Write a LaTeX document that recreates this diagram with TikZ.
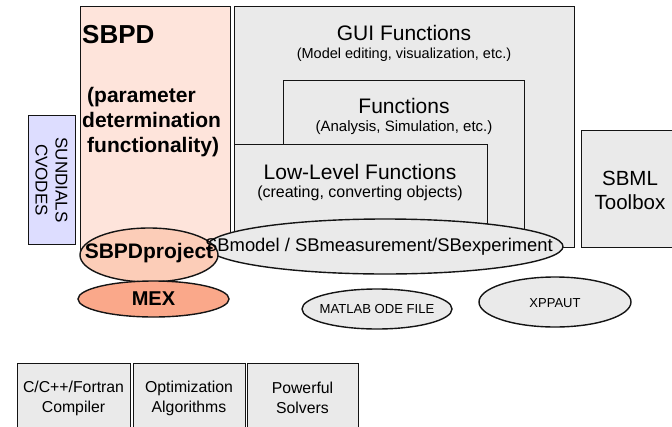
\documentclass[tikz,border=0pt]{standalone}
\usepackage{fontspec}
\setmainfont{Liberation Sans}
\usetikzlibrary{shapes.geometric}
\definecolor{boxgray}{RGB}{234,234,234}
\definecolor{sbpdpink}{RGB}{254,228,219}
\definecolor{projpeach}{RGB}{252,205,184}
\definecolor{mexsalmon}{RGB}{250,168,138}
\definecolor{sunlav}{RGB}{221,221,255}
\definecolor{edge}{RGB}{20,20,20}
\newcommand\setfs[2]{\fontsize{#1}{#2}\selectfont}

\begin{document}
\begin{tikzpicture}[x=1pt,y=-1pt,
  box/.style={draw=edge, line width=1.4pt, fill=boxgray, inner sep=0pt, anchor=north west},
  oval/.style={ellipse, draw=edge, line width=1.4pt, fill=boxgray, inner sep=0pt},
  lbl/.style={inner sep=0pt, align=center, text=black}]
\useasboundingbox (0,0) rectangle (672,426);

% SBPD column and nested function layers
\node[box, fill=sbpdpink, minimum width=150pt, minimum height=244pt] (sbpd) at (80,6) {};
\node[box, minimum width=340pt, minimum height=241pt] (gui) at (234,6) {};
\node[box, minimum width=241pt, minimum height=160pt] (fun) at (283,80) {};
\node[box, minimum width=253pt, minimum height=96pt] (low) at (234,144) {};

% side boxes
\node[box, fill=sunlav, minimum width=47pt, minimum height=129pt] (sun) at (28,115) {};
\node[box, minimum width=100pt, minimum height=117pt] (sbml) at (581,130) {};

% bottom row
\node[box, minimum width=113pt, minimum height=80pt] (comp) at (17,363) {};
\node[box, minimum width=112pt, minimum height=80pt] (opt) at (133,363) {};
\node[box, minimum width=111pt, minimum height=80pt] (solv) at (247,363) {};

% ellipses
\node[oval, minimum width=356pt, minimum height=55pt] (sbm) at (385,246.5) {};
\node[oval, fill=projpeach, minimum width=138pt, minimum height=54pt] (proj) at (149,255) {};
\node[oval, fill=mexsalmon, minimum width=151pt, minimum height=36pt] (mex) at (153.5,299) {};
\node[oval, minimum width=150pt, minimum height=40pt] (ode) at (377,309) {};
\node[oval, minimum width=152pt, minimum height=50pt] (xpp) at (555,302) {};

% labels
\node[lbl, anchor=west, font=\setfs{26}{30}\bfseries] (sbpdt) at (82,35) {SBPD};
\node[lbl, anchor=west, align=left, font=\setfs{21}{25}\bfseries] (sbpdd) at (82,122)
  {\hspace{5pt}(parameter\\determination\\\hspace{5pt}functionality)};
\node[lbl, font=\setfs{21}{24}] (guit) at (404,33) {GUI Functions};
\node[lbl, font=\setfs{14.5}{17}] (guis) at (404,55) {(Model editing, visualization, etc.)};
\node[lbl, font=\setfs{21}{24}] (funt) at (404,106) {Functions};
\node[lbl, font=\setfs{15}{17}] (funs) at (404,128) {(Analysis, Simulation, etc.)};
\node[lbl, font=\setfs{21}{24}] (lowt) at (360,172) {Low-Level Functions};
\node[lbl, font=\setfs{16}{18}] (lows) at (360,193) {(creating, converting objects)};
\node[lbl, rotate=-90, font=\setfs{17}{20}] (sunt) at (51.5,180) {SUNDIALS\\CVODES};
\node[lbl, font=\setfs{20.5}{24}] (sbmlt) at (630,190) {SBML\\Toolbox};
\node[lbl, font=\setfs{18.4}{22}] (sbmt) at (379,247) {SBmodel / SBmeasurement/SBexperiment};
\node[lbl, font=\setfs{21}{24}\bfseries] (projt) at (149,253) {SBPDproject};
\node[lbl, font=\setfs{20}{24}\bfseries] (mext) at (153.5,299) {MEX};
\node[lbl, font=\setfs{13.1}{16}] (odet) at (377,309) {MATLAB ODE FILE};
\node[lbl, font=\setfs{13}{16}] (xppt) at (555,303) {XPPAUT};
\node[lbl, font=\setfs{15.8}{20}] (compt) at (73.5,398) {C/C++/Fortran\\Compiler};
\node[lbl, font=\setfs{15.8}{20}] (optt) at (189,398) {Optimization\\Algorithms};
\node[lbl, font=\setfs{15.8}{20}] (solvt) at (302.5,398) {Powerful\\Solvers};
\end{tikzpicture}
\end{document}
